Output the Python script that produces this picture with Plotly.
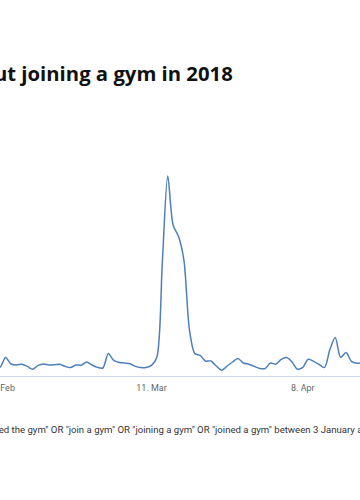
import plotly.graph_objects as go
import pandas as pd

# Daily search interest (index, peak = 100), 10 Feb - 20 Apr 2018
dates = pd.date_range("2018-02-10", "2018-04-20", freq="D")
values = [
    3.5, 4.5, 9.2, 6.0, 5.5, 5.9, 4.8, 3.4, 5.3, 6.0,
    5.5, 5.6, 5.9, 4.8, 4.2, 5.5, 5.4, 7.0, 5.5, 4.3,
    4.0, 11.2, 7.8, 6.8, 6.5, 6.1, 4.8, 4.2, 4.3, 5.3,
    9.5, 56.8, 100.0, 75.4, 69.8, 57.8, 23.6, 11.3, 10.3, 7.5,
    7.5, 5.0, 2.9, 5.0, 7.0, 8.7, 6.5, 5.9, 4.8, 3.8,
    3.7, 6.5, 5.9, 8.3, 9.2, 7.0, 3.4, 4.3, 8.4, 7.3,
    5.8, 4.2, 13.1, 19.2, 9.3, 11.7, 7.3, 6.4, 6.7, 7.0,
]
tick_dates = ["2018-02-11", "2018-03-11", "2018-04-08"]
tick_labels = ["11. Feb", "11. Mar", "8. Apr"]

title_text = "Google searches about joining a gym in 2018"
note_text = ('Google searches for "joined the gym" OR "join a gym" OR "joining a gym" '
             'OR "joined a gym" between 3 January and 3 May 2018')

fig = go.Figure()
fig.add_trace(go.Scatter(
    x=list(dates), y=values, mode="lines",
    line=dict(color="#4d7fbd", width=1.5, shape="spline", smoothing=0.8),
    hoverinfo="skip", showlegend=False,
))

fig.update_layout(
    width=360, height=500,
    margin=dict(l=0, r=0, t=136, b=124, autoexpand=False),
    paper_bgcolor="white", plot_bgcolor="white",
    xaxis=dict(
        range=["2018-02-10 23:00", "2018-04-18 14:00"],
        tickvals=tick_dates, ticktext=tick_labels,
        showgrid=False, zeroline=False, automargin=False,
        showline=True, linecolor="#ccd6eb", linewidth=1,
        ticks="", ticklabelstandoff=3, ticklabeloverflow="allow",
        tickfont=dict(family="Roboto, sans-serif", size=9, color="#666666"),
    ),
    yaxis=dict(range=[0, 120], showgrid=False, zeroline=False, automargin=False,
               showticklabels=False, showline=False),
    annotations=[
        dict(text="<b>" + title_text + "</b>", xref="paper", yref="paper",
             x=235 / 360, y=(376 - 73) / 240, xanchor="right", yanchor="middle",
             showarrow=False, font=dict(family="Open Sans, sans-serif", size=20.3, color="#111111")),
        dict(text=note_text, xref="paper", yref="paper",
             x=-110 / 360, y=(376 - 429) / 240, xanchor="left", yanchor="middle",
             showarrow=False, font=dict(family="Roboto, sans-serif", size=9.6, color="#333333")),
    ],
)

fig.write_html("out.html", config={"displayModeBar": False},
               post_script="document.body.style.margin='0';")
